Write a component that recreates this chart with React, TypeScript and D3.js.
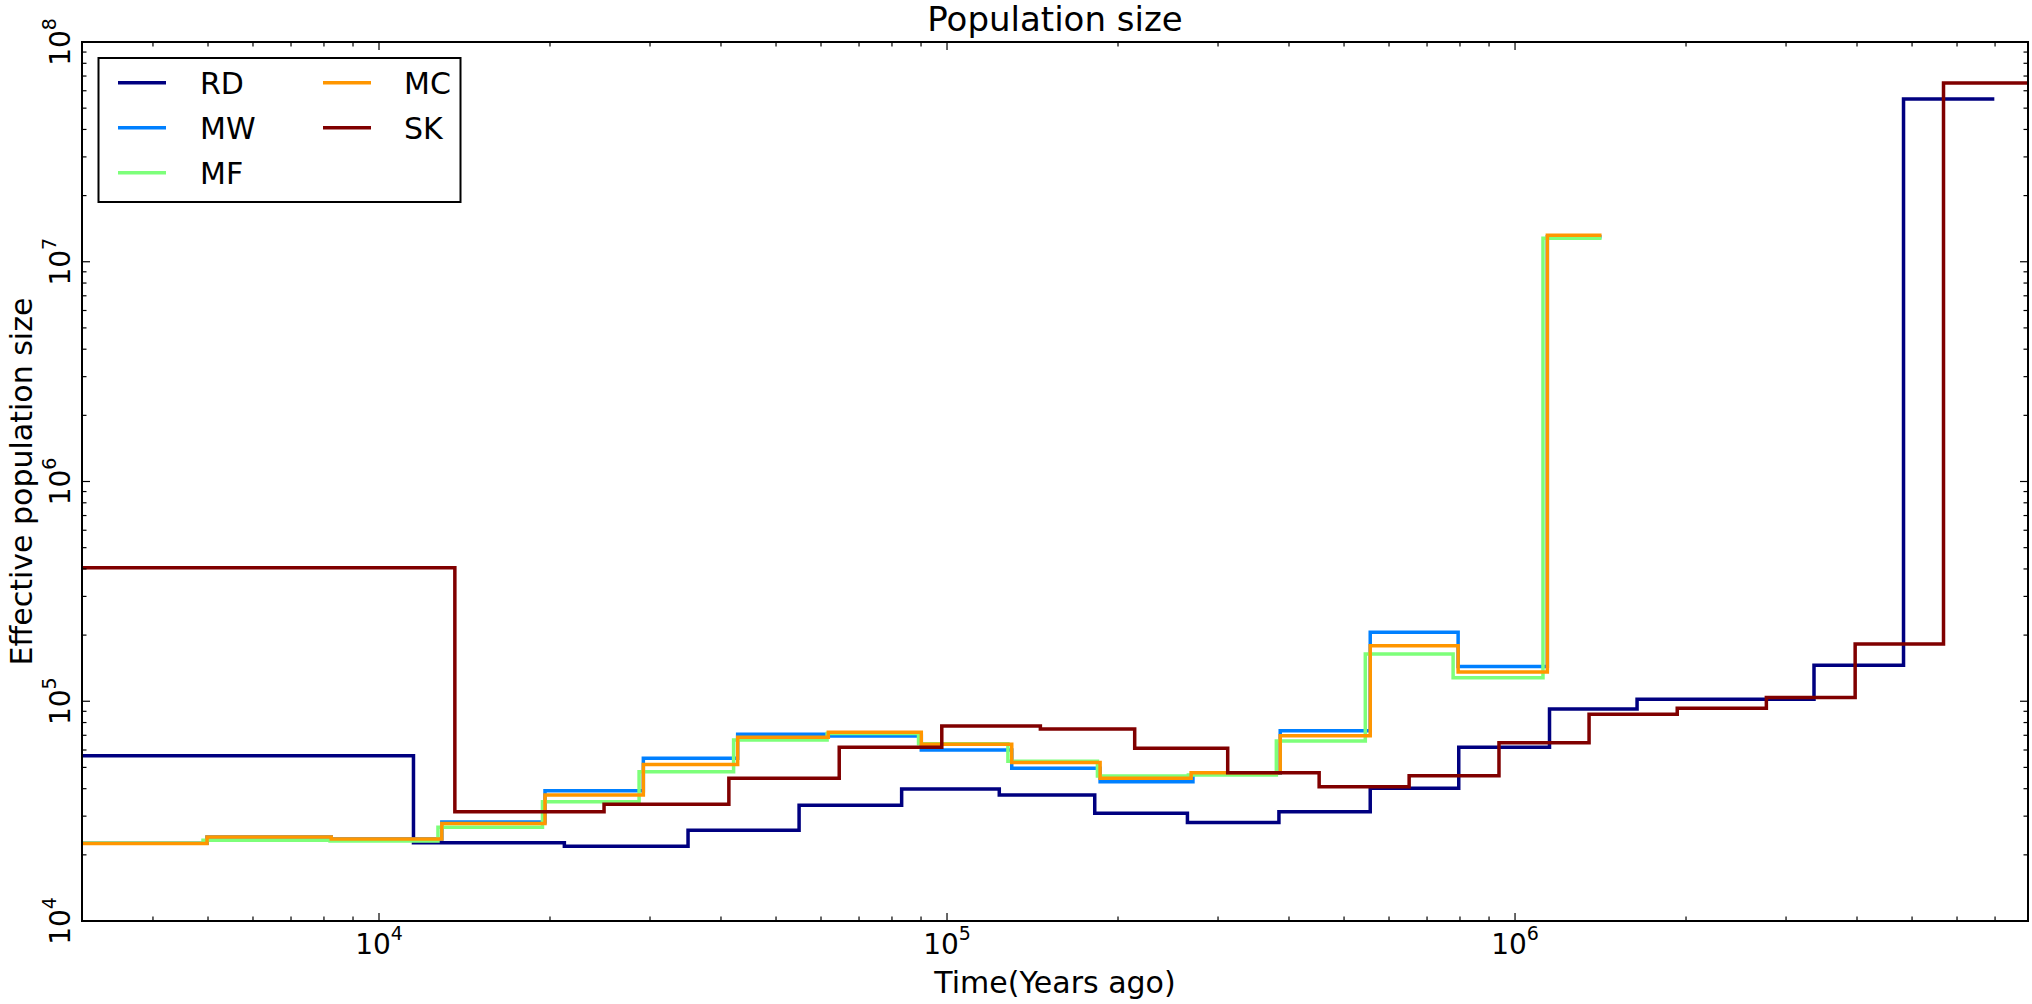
import React from 'react';
import * as d3 from 'd3';

// ---- Data ----
const seriesNames = ['RD', 'MW', 'MF', 'MC', 'SK'];

const rdTimes = [3000, 11500, 21200, 35000, 54900, 83200, 123600, 182000, 265000, 384000, 556000, 796000, 1150000, 1640000, 3360000, 4830000];
const rdValues = [56500, 22700, 21900, 25900, 33600, 39900, 37400, 30900, 28100, 31400, 40200, 61700, 92300, 102000, 146000, 55000000];
const rdEnd = 6930000;

const mwTimes = [3000, 4980, 8240, 12900, 19600, 29200, 42800, 61800, 90100, 130000, 186000, 271000, 386000, 556000, 794000, 1140000];
const mwValues = [22600, 24100, 23600, 28200, 39100, 55000, 70800, 69500, 60000, 49600, 43000, 47000, 73500, 206000, 144000, 13000000];
const mwEnd = 1410000;

const mfTimes = [3000, 4900, 8200, 12700, 19400, 28700, 42100, 61500, 89100, 128000, 184000, 266000, 380000, 545000, 778000, 1120000];
const mfValues = [22600, 23300, 23100, 26700, 34900, 47800, 66700, 71400, 64000, 53300, 45700, 46200, 65900, 164000, 128000, 12800000];
const mfEnd = 1410000;

const mcTimes = [3000, 4980, 8240, 12900, 19600, 29200, 42800, 61800, 90100, 130000, 186000, 269000, 386000, 556000, 794000, 1140000];
const mcValues = [22500, 24100, 23600, 27800, 37400, 51600, 68600, 72200, 63800, 52600, 44600, 47300, 69700, 179000, 136000, 13200000];
const mcEnd = 1410000;

const skTimes = [3000, 13600, 24900, 41300, 64600, 97900, 146000, 214000, 312000, 452000, 651000, 937000, 1350000, 1930000, 2770000, 3970000, 5680000];
const skValues = [405000, 31400, 34000, 44600, 61700, 77100, 74800, 61100, 47300, 40800, 45800, 64700, 87300, 92900, 104000, 182000, 65000000];
const skEnd = 8000000;

const xDomain = [3000, 8000000];
const yDomain = [1e4, 1e8];
const xTickExponents = [4, 5, 6];
const yTickExponents = [4, 5, 6, 7, 8];

const titleText = 'Population size';
const xLabelText = 'Time(Years ago)';
const yLabelText = 'Effective population size';

// ---- Styling ----
const colors = ['#000080', '#0080ff', '#7dff7a', '#ff9600', '#800000'];
const FONT = '"DejaVu Sans", sans-serif';

const seriesData = [
  { times: rdTimes, values: rdValues, end: rdEnd },
  { times: mwTimes, values: mwValues, end: mwEnd },
  { times: mfTimes, values: mfValues, end: mfEnd },
  { times: mcTimes, values: mcValues, end: mcEnd },
  { times: skTimes, values: skValues, end: skEnd },
];

export default function App() {
  const W = 2032;
  const H = 1004;
  const L = 82, R = 2028, T = 42, B = 921;

  const x = d3.scaleLog().domain(xDomain).range([L, R]);
  const y = d3.scaleLog().domain(yDomain).range([B, T]);

  const line = d3
    .line<[number, number]>()
    .x((d) => x(d[0]))
    .y((d) => y(d[1]))
    .curve(d3.curveStepAfter);

  const paths = seriesData.map((s) => {
    const pts: [number, number][] = s.times.map((t, i) => [t, s.values[i]]);
    pts.push([s.end, s.values[s.values.length - 1]]);
    return line(pts) || '';
  });

  // ticks
  const xMajor = xTickExponents.map((e) => Math.pow(10, e));
  const xMinor: number[] = [];
  for (let e = 3; e <= 6; e++) {
    for (let k = 2; k <= 9; k++) {
      const v = k * Math.pow(10, e);
      if (v >= xDomain[0] && v <= xDomain[1]) xMinor.push(v);
    }
  }
  const yMajor = yTickExponents.map((e) => Math.pow(10, e));
  const yMinor: number[] = [];
  for (let e = 4; e <= 7; e++) {
    for (let k = 2; k <= 9; k++) yMinor.push(k * Math.pow(10, e));
  }

  const majLen = 8;
  const minLen = 4.5;
  const tickColor = '#000';
  const LW = 3.5;

  const legendItems = seriesNames.map((n, i) => ({
    name: n,
    color: colors[i],
    col: i < 3 ? 0 : 1,
    row: i < 3 ? i : i - 3,
  }));

  return (
    <svg
      width={W}
      height={H}
      style={{ position: 'absolute', left: 0, top: 0, background: '#fff' }}
      fontFamily={FONT}
    >
      <rect x={0} y={0} width={W} height={H} fill="#fff" />
      <defs>
        <clipPath id="plotclip">
          <rect x={L} y={T} width={R - L} height={B - T} />
        </clipPath>
      </defs>

      <g clipPath="url(#plotclip)">
        {paths.map((d, i) => (
          <path
            key={i}
            d={d}
            fill="none"
            stroke={colors[i]}
            strokeWidth={LW}
            strokeLinejoin="miter"
            strokeLinecap="square"
          />
        ))}
      </g>

      {/* ticks */}
      <g stroke={tickColor} strokeWidth={1.2}>
        {xMajor.map((v, i) => (
          <g key={'xM' + i}>
            <line x1={x(v)} x2={x(v)} y1={B} y2={B - majLen} />
            <line x1={x(v)} x2={x(v)} y1={T} y2={T + majLen} />
          </g>
        ))}
        {xMinor.map((v, i) => (
          <g key={'xm' + i}>
            <line x1={x(v)} x2={x(v)} y1={B} y2={B - minLen} />
            <line x1={x(v)} x2={x(v)} y1={T} y2={T + minLen} />
          </g>
        ))}
        {yMajor.map((v, i) => (
          <g key={'yM' + i}>
            <line x1={L} x2={L + majLen} y1={y(v)} y2={y(v)} />
            <line x1={R} x2={R - majLen} y1={y(v)} y2={y(v)} />
          </g>
        ))}
        {yMinor.map((v, i) => (
          <g key={'ym' + i}>
            <line x1={L} x2={L + minLen} y1={y(v)} y2={y(v)} />
            <line x1={R} x2={R - minLen} y1={y(v)} y2={y(v)} />
          </g>
        ))}
      </g>

      {/* spines */}
      <rect x={L} y={T} width={R - L} height={B - T} fill="none" stroke="#000" strokeWidth={2} />

      {/* x tick labels */}
      {xTickExponents.map((e, i) => (
        <text key={'xl' + i} x={x(Math.pow(10, e))} y={954} textAnchor="middle" fontSize={28} fill="#000">
          <tspan>10</tspan>
          <tspan fontSize={19} dy={-14}>{e}</tspan>
        </text>
      ))}

      {/* y tick labels */}
      {yTickExponents.map((e, i) => (
        <text
          key={'yl' + i}
          transform={`translate(70,${y(Math.pow(10, e))}) rotate(-90)`}
          textAnchor="middle"
          fontSize={28}
          fill="#000"
        >
          <tspan>10</tspan>
          <tspan fontSize={19} dy={-14}>{e}</tspan>
        </text>
      ))}

      {/* title & axis labels */}
      <text x={(L + R) / 2} y={31} textAnchor="middle" fontSize={34} fill="#000">
        {titleText}
      </text>
      <text x={(L + R) / 2} y={993} textAnchor="middle" fontSize={30} fill="#000">
        {xLabelText}
      </text>
      <text
        transform={`translate(32,${(T + B) / 2}) rotate(-90)`}
        textAnchor="middle"
        fontSize={30}
        fill="#000"
      >
        {yLabelText}
      </text>

      {/* legend */}
      <g>
        <rect x={98.5} y={58} width={362} height={144} fill="#fff" stroke="#000" strokeWidth={2} />
        {legendItems.map((it, i) => {
          const lx = it.col === 0 ? 118 : 323;
          const tx = it.col === 0 ? 200 : 404;
          const ly = 82.7 + it.row * 45;
          return (
            <g key={'lg' + i}>
              <line x1={lx} x2={lx + 48} y1={ly} y2={ly} stroke={it.color} strokeWidth={LW} />
              <text x={tx} y={ly + 11} fontSize={30} fill="#000">
                {it.name}
              </text>
            </g>
          );
        })}
      </g>
    </svg>
  );
}
